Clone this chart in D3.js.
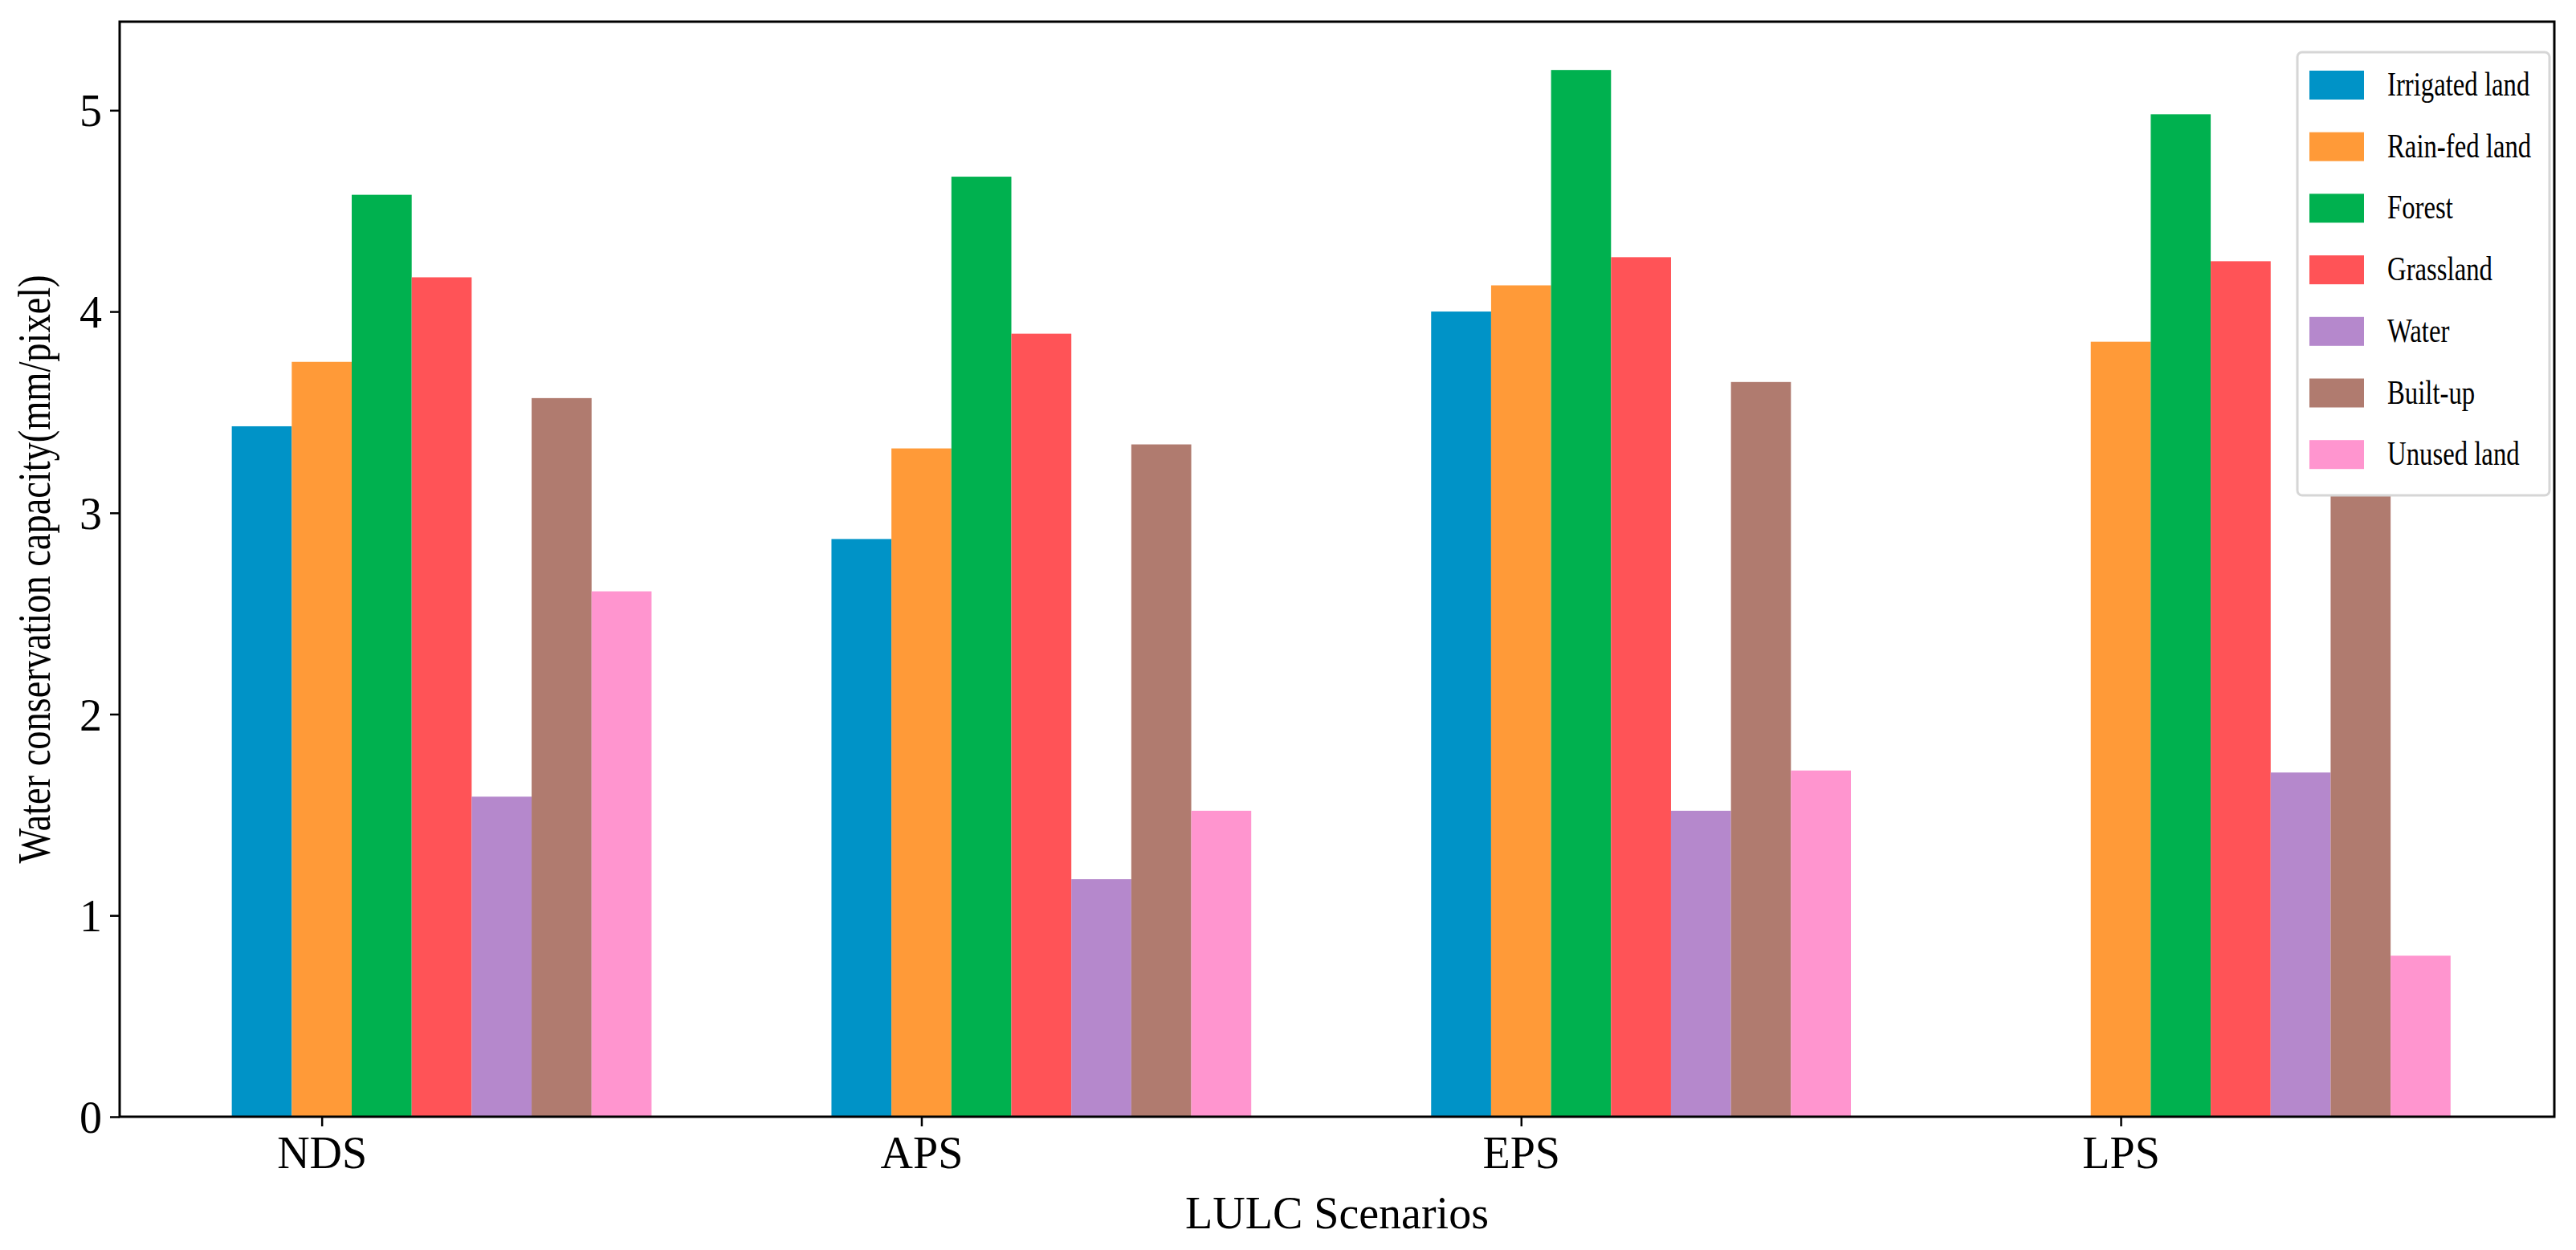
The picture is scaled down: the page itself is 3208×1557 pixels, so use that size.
<!DOCTYPE html>
<html>
<head>
<meta charset="utf-8">
<script src="https://cdn.jsdelivr.net/npm/d3@7"></script>
<style>
  body { margin: 0; background: #fff; }
  text { font-family: "Liberation Serif", "Times New Roman", serif; fill: #000; }
</style>
</head>
<body>
<svg id="chart" width="3208" height="1557"></svg>
<script>
// scenarios along the x axis
var scenarios = ["NDS", "APS", "EPS", "LPS"];
// land use classes (legend order)
var classes = ["Irrigated land", "Rain-fed land", "Forest", "Grassland", "Water", "Built-up", "Unused land"];
var colors = ["#0093c7", "#ff9a38", "#00b14f", "#ff5357", "#b588cc", "#b07b6f", "#ff95cf"];
// values per class, one per scenario (NDS, APS, EPS, LPS)
var irrigated = [3.43, 2.87, 4.00, 0];
var rainfed   = [3.75, 3.32, 4.13, 3.85];
var forest    = [4.58, 4.67, 5.20, 4.98];
var grassland = [4.17, 3.89, 4.27, 4.25];
var water     = [1.59, 1.18, 1.52, 1.71];
var builtup   = [3.57, 3.34, 3.65, 3.36];
var unused    = [2.61, 1.52, 1.72, 0.80];
var series = [irrigated, rainfed, forest, grassland, water, builtup, unused];
var yTicks = [0, 1, 2, 3, 4, 5];

var svg = d3.select("#chart");
var mLeft = 149, mTop = 27, mRight = 3181, mBottom = 1391;
var barW = 0.1;

var x = d3.scaleLinear().domain([-0.337, 3.723]).range([mLeft, mRight]);
var y = d3.scaleLinear().domain([0, 5.44]).range([mBottom, mTop]);

// bars
series.forEach(function(vals, k) {
  svg.append("g").selectAll("rect")
    .data(vals)
    .enter().append("rect")
    .attr("x", function(d, i) { return x(i + (k - 1.5) * barW); })
    .attr("width", x(barW) - x(0))
    .attr("y", function(d) { return y(d); })
    .attr("height", function(d) { return y(0) - y(d); })
    .attr("fill", colors[k]);
});

// axes
var yAxis = d3.axisLeft(y).tickValues(yTicks).tickSize(12).tickPadding(10).tickFormat(d3.format("d"));
var gy = svg.append("g").attr("transform", "translate(" + mLeft + ",0)").call(yAxis);
gy.selectAll("text").style("font-size", "56px").attr("dy", "0.35em");

var xAxis = d3.axisBottom(x).tickValues([0, 1, 2, 3]).tickSize(12).tickPadding(12)
  .tickFormat(function(d) { return scenarios[d]; });
var gx = svg.append("g").attr("transform", "translate(0," + mBottom + ")").call(xAxis);
gx.selectAll("text").style("font-size", "56px");

svg.selectAll(".domain").remove();
svg.selectAll(".tick line").attr("stroke", "#000").attr("stroke-width", 2.5);

// frame
svg.append("rect").attr("x", mLeft).attr("y", mTop)
  .attr("width", mRight - mLeft).attr("height", mBottom - mTop)
  .attr("fill", "none").attr("stroke", "#000").attr("stroke-width", 3);

// axis titles
svg.append("text").attr("x", (mLeft + mRight) / 2).attr("y", 1530)
  .attr("text-anchor", "middle").style("font-size", "56px").text("LULC Scenarios");
svg.append("text")
  .attr("transform", "translate(62," + (mTop + mBottom) / 2 + ") rotate(-90) scale(0.8,1)")
  .attr("text-anchor", "middle").style("font-size", "58px")
  .text("Water conservation capacity(mm/pixel)");

// legend
var lg = svg.append("g");
lg.append("rect").attr("x", 2861).attr("y", 65).attr("width", 314).attr("height", 552)
  .attr("rx", 6).attr("fill", "#fff").attr("stroke", "#d6d6d6").attr("stroke-width", 3);
classes.forEach(function(c, k) {
  var cy = 106 + k * 76.7;
  lg.append("rect").attr("x", 2876).attr("y", cy - 18).attr("width", 68).attr("height", 36)
    .attr("fill", colors[k]);
  lg.append("text").attr("transform", "translate(2973," + (cy + 13) + ") scale(0.78,1)")
    .style("font-size", "42px").text(c);
});
</script>
</body>
</html>
